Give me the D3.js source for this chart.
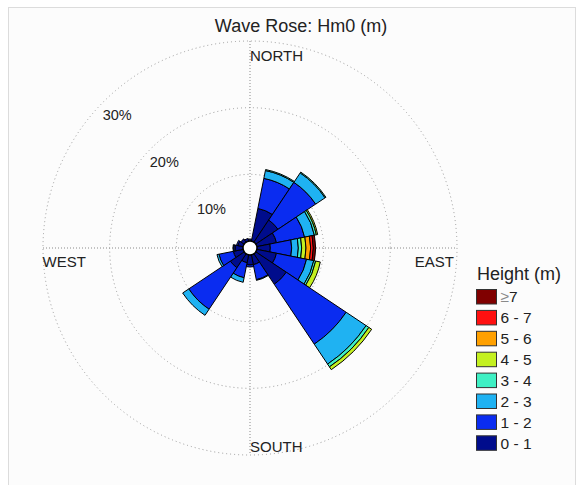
<!DOCTYPE html>
<html>
<head>
<meta charset="utf-8">
<script src="https://cdn.jsdelivr.net/npm/d3@7/dist/d3.min.js"></script>
<style>
  html, body { margin: 0; padding: 0; background: #ffffff; }
  svg { display: block; font-family: "Liberation Sans", Arial, sans-serif; }
</style>
</head>
<body>
<svg id="chart" width="588" height="485"></svg>
<script>
// Direction sectors, clockwise from north
const directions = ["N", "NNE", "NE", "ENE", "E", "ESE", "SE", "SSE",
                    "S", "SSW", "SW", "WSW", "W", "WNW", "NW", "NNW"];

// Wave height classes (m) and their colours
const heightBins = ["0 - 1", "1 - 2", "2 - 3", "3 - 4", "4 - 5", "5 - 6", "6 - 7", "\u22657"];
const binColors = ["#000c8c", "#0a2cf0", "#1fb2f2", "#3ff0c4", "#c4f020", "#ffa000", "#ff1010", "#800000"];

// Percentage of occurrence per direction for each height class
const pct0to1 = [0.3, 5.0, 4.0, 3.0, 2.0, 3.0, 5.5, 1.5, 1.5, 1.2, 2.5, 1.5, 1.2, 0.8, 0.6, 0.4];
const pct1to2 = [0.0, 4.6, 6.8, 4.3, 3.2, 4.6, 10.8, 2.3, 0.3, 2.3, 7.5, 2.2, 0.2, 0.2, 0.0, 0.0];
const pct2to3 = [0.0, 1.2, 1.7, 1.5, 1.0, 1.1, 3.6, 0.1, 0.0, 0.7, 1.1, 0.3, 0.1, 0.0, 0.0, 0.0];
const pct3to4 = [0.0, 0.15, 0.15, 0.3, 0.5, 0.3, 0.5, 0.0, 0.0, 0.0, 0.0, 0.0, 0.0, 0.0, 0.0, 0.0];
const pct4to5 = [0.0, 0.0, 0.0, 0.2, 0.65, 0.7, 0.5, 0.0, 0.0, 0.0, 0.0, 0.0, 0.0, 0.0, 0.0, 0.0];
const pct5to6 = [0.0, 0.0, 0.0, 0.0, 0.7, 0.0, 0.0, 0.0, 0.0, 0.0, 0.0, 0.0, 0.0, 0.0, 0.0, 0.0];
const pct6to7 = [0.0, 0.0, 0.0, 0.0, 0.4, 0.0, 0.0, 0.0, 0.0, 0.0, 0.0, 0.0, 0.0, 0.0, 0.0, 0.0];
const pct7up  = [0.0, 0.0, 0.0, 0.0, 0.35, 0.0, 0.0, 0.0, 0.0, 0.0, 0.0, 0.0, 0.0, 0.0, 0.0, 0.0];

// Percent rings
const ringValues = [10, 20, 30];
const ringLabels = ["10%", "20%", "30%"];
const compassLabels = ["NORTH", "EAST", "SOUTH", "WEST"];

const binSeries = [pct0to1, pct1to2, pct2to3, pct3to4, pct4to5, pct5to6, pct6to7, pct7up];

const svg = d3.select("#chart");
const cx = 250, cy = 248;

// Panel frame
svg.append("rect")
  .attr("x", 8.5).attr("y", 7.5).attr("width", 567).attr("height", 490)
  .attr("fill", "#fcfcfc").attr("stroke", "#dcdcdc").attr("stroke-width", 1);

// Title
svg.append("text")
  .attr("x", 301).attr("y", 32)
  .attr("text-anchor", "middle")
  .attr("font-size", 18).attr("fill", "#222")
  .text("Wave Rose: Hm0 (m)");

const r = d3.scaleLinear().domain([0, 30]).range([7, 207]);
const angle = d3.scaleBand().domain(directions).range([0, 2 * Math.PI]);
const sector = angle.bandwidth();

const g = svg.append("g").attr("transform", `translate(${cx},${cy})`);

// Grid rings
g.selectAll("circle.ring")
  .data(ringValues)
  .join("circle")
  .attr("class", "ring")
  .attr("r", d => r(d))
  .attr("fill", "none")
  .attr("stroke", "#9a9a9a")
  .attr("stroke-width", 1)
  .attr("stroke-dasharray", "1,3");

// Cross hairs
const rMax = r(30);
g.append("line").attr("x1", -rMax).attr("x2", rMax).attr("y1", 0).attr("y2", 0)
  .attr("stroke", "#8a8a8a").attr("stroke-dasharray", "1,2");
g.append("line").attr("x1", 0).attr("x2", 0).attr("y1", -rMax).attr("y2", rMax)
  .attr("stroke", "#8a8a8a").attr("stroke-dasharray", "1,2");

// Stacked sectors
const arc = d3.arc();
const segments = [];
directions.forEach((dir, i) => {
  let cum = 0;
  binSeries.forEach((series, b) => {
    const v = series[i];
    if (v > 0) {
      segments.push({ dir, b, lo: cum, hi: cum + v });
      cum += v;
    }
  });
});

g.selectAll("path.seg")
  .data(segments)
  .join("path")
  .attr("class", "seg")
  .attr("d", d => {
    const a0 = angle(d.dir) - sector / 2;
    return arc({ innerRadius: r(d.lo), outerRadius: r(d.hi), startAngle: a0, endAngle: a0 + sector });
  })
  .attr("fill", d => binColors[d.b])
  .attr("stroke", "#000")
  .attr("stroke-width", 1)
  .attr("stroke-linejoin", "round");

// Calm centre
g.append("circle").attr("r", r(0))
  .attr("fill", "#fff").attr("stroke", "#000").attr("stroke-width", 1.5);

// Ring labels along the north-west diagonal
g.selectAll("text.ringlab")
  .data(ringValues)
  .join("text")
  .attr("class", "ringlab")
  .attr("x", d => -r(d) * Math.SQRT1_2 - 1)
  .attr("y", d => -r(d) * Math.SQRT1_2 + 18.5)
  .attr("font-size", 14.5).attr("fill", "#222")
  .text((d, i) => ringLabels[i]);

// Compass labels
const compassPos = [
  { x: 0, y: -rMax + 20, anchor: "start" },
  { x: rMax - 3, y: 18.5, anchor: "end" },
  { x: 0, y: rMax - 3.5, anchor: "start" },
  { x: -rMax - 0.5, y: 18.5, anchor: "start" }
];
g.selectAll("text.compass")
  .data(compassLabels)
  .join("text")
  .attr("class", "compass")
  .attr("x", (d, i) => compassPos[i].x)
  .attr("y", (d, i) => compassPos[i].y)
  .attr("text-anchor", (d, i) => compassPos[i].anchor)
  .attr("font-size", 15).attr("fill", "#222")
  .text(d => d);

// Legend
const legend = svg.append("g").attr("transform", "translate(476,0)");
legend.append("text")
  .attr("x", 1).attr("y", 280)
  .attr("font-size", 18).attr("fill", "#222")
  .text("Height (m)");

const legendOrder = d3.range(heightBins.length).reverse();
const rows = legend.selectAll("g.row")
  .data(legendOrder)
  .join("g")
  .attr("class", "row")
  .attr("transform", (d, i) => `translate(0,${289.5 + i * 20.9})`);
rows.append("rect")
  .attr("x", 0.5).attr("y", 0).attr("width", 20).attr("height", 14.5)
  .attr("fill", d => binColors[d])
  .attr("stroke", "#333").attr("stroke-width", 1);
const labels = rows.append("text")
  .attr("x", 24.5).attr("y", 7.5)
  .attr("dy", "0.35em")
  .attr("font-size", 15.5)
  .attr("fill", "#222");
// The open-ended class shows its "≥" sign in a lighter grey
labels.each(function(d) {
  const t = d3.select(this);
  const label = heightBins[d];
  if (label.startsWith("\u2265")) {
    t.append("tspan").attr("fill", "#8a8a8a").text("\u2265");
    t.append("tspan").text(label.slice(1));
  } else {
    t.text(label);
  }
});
</script>
</body>
</html>
